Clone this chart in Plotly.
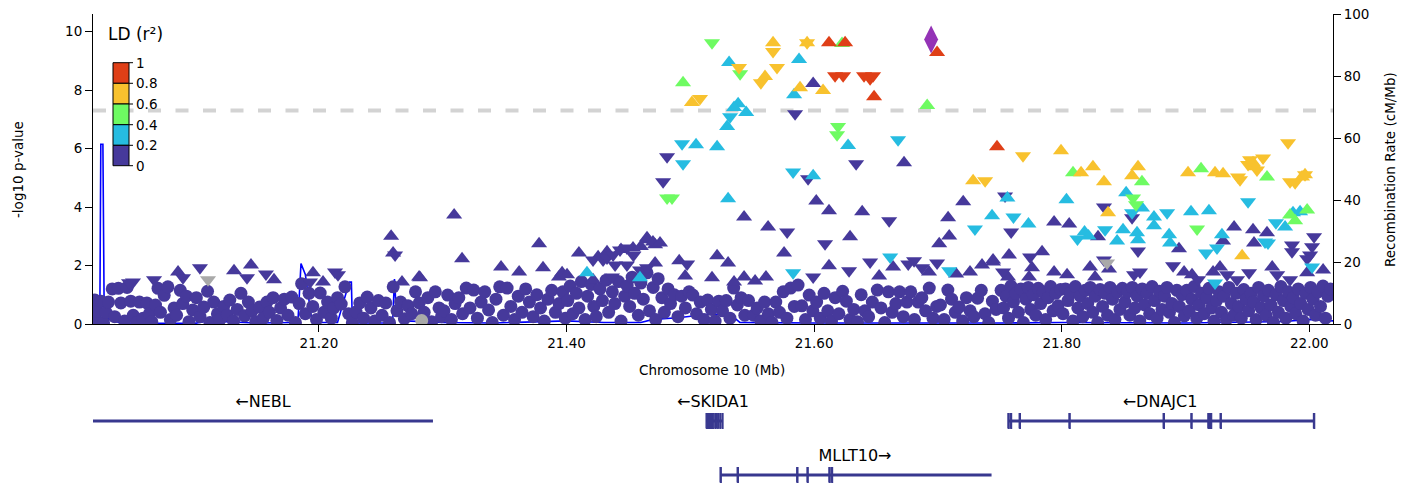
import plotly.graph_objects as go

# ---------------- association results (chr10, Mb / -log10 p) ----------------
# variants without an effect direction (drawn as circles), all r2 < 0.2
circle_pos = [
    21.019, 21.020, 21.021, 21.024, 21.026, 21.028, 21.030, 21.033, 21.035, 21.038, 21.040, 21.043, 21.045, 21.048, 21.050, 21.053, 21.055, 21.058,
    21.061, 21.063, 21.065, 21.068, 21.070, 21.072, 21.075, 21.078, 21.080, 21.083, 21.085, 21.088, 21.090, 21.093, 21.095, 21.098,
    21.101, 21.104, 21.107, 21.110, 21.112, 21.115, 21.118, 21.120, 21.123, 21.126, 21.128, 21.131, 21.134, 21.137, 21.140, 21.143, 21.146, 21.149,
    21.152, 21.155, 21.158, 21.160, 21.163, 21.166, 21.169, 21.172, 21.175, 21.178, 21.181, 21.184, 21.186, 21.189, 21.192, 21.195, 21.198,
    21.201, 21.204, 21.207, 21.210, 21.212, 21.215, 21.218, 21.221, 21.224, 21.227, 21.230, 21.233, 21.236, 21.239, 21.242, 21.245, 21.248,
    21.251, 21.254, 21.257, 21.260, 21.263, 21.266, 21.269, 21.272, 21.275, 21.278, 21.281, 21.285, 21.288, 21.291, 21.294, 21.297, 21.299,
    21.301, 21.304, 21.307, 21.310, 21.313, 21.316, 21.319, 21.322, 21.325, 21.328, 21.331, 21.334, 21.337, 21.340, 21.343, 21.346, 21.349,
    21.352, 21.355, 21.358, 21.361, 21.364, 21.367, 21.370, 21.373, 21.376, 21.379, 21.382, 21.385, 21.388, 21.391, 21.394, 21.397, 21.399,
    21.401, 21.403, 21.405, 21.408, 21.410, 21.412, 21.415, 21.417, 21.420, 21.422, 21.424, 21.427, 21.429, 21.432, 21.434, 21.437, 21.439, 21.442, 21.444, 21.447, 21.449,
    21.451, 21.453, 21.455, 21.458, 21.460, 21.462, 21.465, 21.467, 21.470, 21.472, 21.474, 21.477, 21.479, 21.482, 21.484, 21.487, 21.490, 21.493, 21.496, 21.499,
    21.502, 21.505, 21.508, 21.511, 21.514, 21.517, 21.520, 21.523, 21.526, 21.529, 21.532, 21.535, 21.538, 21.541, 21.544, 21.547,
    21.551, 21.554, 21.557, 21.560, 21.563, 21.566, 21.569, 21.572, 21.575, 21.578, 21.581, 21.584, 21.587, 21.590, 21.593, 21.596, 21.599,
    21.602, 21.605, 21.608, 21.611, 21.614, 21.617, 21.620, 21.623, 21.626, 21.629, 21.632, 21.635, 21.638, 21.641, 21.644, 21.647,
    21.651, 21.654, 21.657, 21.660, 21.663, 21.666, 21.669, 21.672, 21.675, 21.678, 21.681, 21.684, 21.687, 21.690, 21.693, 21.696, 21.699,
    21.702, 21.705, 21.708, 21.711, 21.714, 21.717, 21.720, 21.723, 21.726, 21.729, 21.732, 21.735, 21.738, 21.741, 21.744, 21.747,
    21.751, 21.753, 21.755, 21.757, 21.759, 21.761, 21.763, 21.765, 21.767, 21.769, 21.771, 21.773, 21.775, 21.777, 21.779, 21.781, 21.783, 21.785, 21.787, 21.789, 21.791, 21.793, 21.795, 21.797, 21.799,
    21.801, 21.803, 21.805, 21.807, 21.809, 21.811, 21.813, 21.815, 21.817, 21.819, 21.821, 21.823, 21.825, 21.827, 21.829, 21.831, 21.833, 21.835, 21.837, 21.839, 21.841, 21.843, 21.845, 21.847, 21.849,
    21.851, 21.853, 21.855, 21.857, 21.859, 21.861, 21.863, 21.865, 21.867, 21.869, 21.871, 21.873, 21.875, 21.877, 21.879, 21.881, 21.883, 21.885, 21.887, 21.889, 21.891, 21.893, 21.895, 21.897, 21.899,
    21.901, 21.903, 21.905, 21.907, 21.909, 21.911, 21.913, 21.915, 21.917, 21.919, 21.921, 21.923, 21.925, 21.927, 21.929, 21.931, 21.933, 21.935, 21.937, 21.939, 21.941, 21.943, 21.945, 21.947, 21.949,
    21.951, 21.953, 21.955, 21.957, 21.959, 21.961, 21.963, 21.965, 21.967, 21.969, 21.971, 21.973, 21.975, 21.977, 21.979, 21.981, 21.983, 21.985, 21.987, 21.989, 21.991, 21.993, 21.995, 21.997, 21.999,
    22.001, 22.003, 22.005, 22.007, 22.009, 22.011, 22.013, 22.015, 22.017,
]
circle_logp = [
    0.82, 0.15, 0.45, 0.78, 0.05, 0.40, 0.75, 1.20, 0.25, 1.22, 0.72, 0.10, 1.25, 0.78, 0.30, 0.05, 0.75, 0.20,
    0.72, 0.35, 0.08, 0.65, 1.22, 0.40, 0.98, 1.27, 0.15, 0.55, 0.30, 1.15, 0.70, 0.95, 0.08, 0.48,
    0.90, 0.25, 0.58, 1.12, 0.05, 0.75, 0.35, 0.15, 0.60, 0.30, 0.82, 0.10, 0.50, 1.05, 0.28, 0.75, 0.45, 0.08,
    0.58, 0.20, 0.75, 0.40, 0.90, 0.12, 0.55, 0.85, 0.30, 0.92, 0.05, 0.70, 1.38, 0.35, 1.05, 0.60, 0.15,
    1.06, 0.40, 0.75, 0.20, 0.55, 0.90, 0.68, 1.27, 0.35, 0.05, 0.41, 0.72, 0.20, 0.92, 0.55, 0.10, 0.80,
    0.30, 0.72, 0.05, 1.27, 0.45, 0.75, 0.18, 0.62, 0.35, 1.10, 0.72, 0.40, 0.90, 0.08, 1.10, 0.55, 0.25,
    0.45, 0.99, 0.15, 0.70, 0.90, 0.35, 1.23, 0.55, 1.16, 0.20, 0.75, 1.10, 0.48, 0.05, 0.85, 1.27, 0.30,
    1.23, 0.60, 0.15, 0.95, 0.40, 1.20, 0.75, 0.25, 1.00, 0.55, 0.10, 0.85, 1.15, 0.40, 0.70, 1.10, 0.20,
    0.80, 1.30, 0.35, 1.05, 0.55, 1.45, 0.15, 0.95, 1.35, 0.60, 0.25, 1.20, 0.80, 1.50, 0.40, 1.10, 0.70, 1.45, 0.10, 0.95, 1.30,
    0.60, 1.60, 1.05, 0.30, 1.40, 0.85, 1.75, 0.45, 1.25, 0.15, 1.55, 0.90, 0.40, 1.20, 0.70, 1.00, 0.25, 0.95, 0.55, 1.10,
    0.99, 0.35, 0.75, 0.15, 0.82, 0.50, 0.10, 0.78, 0.45, 0.80, 0.20, 1.23, 0.65, 0.90, 0.30, 0.80,
    0.30, 0.55, 0.10, 0.75, 0.35, 0.05, 0.75, 0.40, 1.10, 0.20, 1.23, 0.60, 1.33, 0.62, 0.15, 0.99, 0.45,
    0.75, 0.20, 1.05, 0.45, 0.10, 0.90, 0.35, 1.12, 0.78, 0.15, 0.50, 0.08, 1.00, 0.45, 0.25, 0.75,
    1.16, 0.55, 0.05, 1.10, 0.40, 0.70, 1.10, 0.25, 0.75, 1.10, 0.15, 0.75, 0.90, 0.45, 1.23, 0.20, 0.60,
    0.65, 0.15, 1.16, 0.85, 0.40, 0.58, 0.10, 0.90, 0.45, 0.25, 0.88, 1.15, 0.35, 0.05, 0.78, 0.50,
    1.15, 0.55, 0.95, 0.20, 1.30, 0.75, 1.05, 0.40, 1.20, 0.05, 0.85, 1.25, 0.50, 1.00, 0.30, 1.22, 0.70, 1.10, 0.15, 0.90, 1.28, 0.45, 1.05, 0.62, 1.18,
    0.35, 1.20, 0.80, 1.05, 0.10, 1.28, 0.55, 0.95, 0.25, 1.15, 0.70, 1.25, 0.40, 0.95, 0.05, 1.18, 0.60, 1.05, 0.30, 1.25, 0.85, 0.15, 1.10, 0.50, 1.22,
    0.75, 1.10, 0.30, 1.25, 0.55, 0.95, 0.10, 1.20, 0.65, 1.05, 0.35, 1.28, 0.80, 0.20, 1.12, 0.50, 0.95, 1.25, 0.40, 0.70, 0.05, 1.15, 0.60, 1.00, 0.28,
    1.15, 0.45, 0.85, 1.28, 0.20, 0.65, 1.05, 0.35, 0.90, 1.22, 0.55, 0.10, 0.80, 1.10, 0.40, 0.95, 0.15, 1.25, 0.70, 0.30, 1.05, 0.60, 0.20, 1.18, 0.85,
    0.45, 1.05, 0.75, 0.15, 1.25, 0.55, 0.95, 0.30, 1.15, 0.65, 0.05, 1.00, 0.40, 1.28, 0.80, 0.20, 1.10, 0.60, 0.90, 0.35, 1.20, 0.70, 0.10, 1.05, 0.50,
    1.25, 0.85, 0.30, 1.10, 0.60, 1.30, 0.20, 0.95, 1.20,
]
# circle with no LD information
nold_circle_pos = [21.283]
nold_circle_logp = [0.12]

# variants with a positive effect (triangle up); r2 = None means no LD information
up_pos = [
    21.612, 21.625, 21.6993, 21.6484, 21.7477,
    21.5668, 21.5943, 21.5603, 21.5886, 21.6072, 21.5013, 21.7284, 21.7994, 21.8156, 21.8252, 21.8341, 21.8568,
    21.8616, 21.902, 21.9238, 21.9303, 21.9545, 21.9561, 21.9965, 21.9941, 21.8374, 21.9457,
    21.4941, 21.6225, 21.6913, 21.8091, 21.8648, 21.9125, 21.9658, 21.9844, 21.9885, 21.9982,
    21.5313, 21.5878, 21.5838, 21.5386, 21.5451, 21.5297, 21.5353, 21.5046, 21.5216, 21.6274, 21.5305, 21.5992,
    21.7437, 21.7561, 21.7731, 21.8038, 21.8184, 21.8216, 21.8447, 21.8495, 21.852, 21.8648, 21.8608, 21.8616,
    21.8745, 21.8745, 21.8867, 21.8875, 21.9044, 21.9189, 21.9294, 21.9804, 21.9868, 21.9925, 21.4165, 21.4593,
    21.5992, 21.6726, 21.5434, 21.5628, 21.6017, 21.612, 21.6388, 21.7204, 21.7082, 21.7091, 21.701, 21.629,
    21.5757, 21.5216, 21.5305, 21.491, 21.4958, 21.5175, 21.612, 21.6525, 21.6638, 21.6928, 21.7147, 21.7259,
    21.7356, 21.7445, 21.5434, 21.5523, 21.5611, 21.5353, 21.7938, 21.806, 21.8293, 21.8947, 21.9303, 21.9392,
    21.9545, 21.9553, 21.9658, 21.8382,
    21.0862, 21.1314, 21.1451, 21.1637, 21.1952, 21.2033, 21.2599, 21.2583, 21.2671, 21.2809, 21.3092, 21.3156,
    21.3471, 21.3617, 21.3778, 21.381, 21.3939, 21.2817, 21.41, 21.4327, 21.4537, 21.4658, 21.4715, 21.3964,
    21.4004, 21.4214, 21.4715, 21.465, 21.4698, 21.4755, 21.4255, 21.444, 21.46,
    21.7445, 21.7574, 21.7566, 21.776, 21.7736, 21.7841, 21.7938, 21.8043, 21.8229, 21.8269, 21.8988, 21.9052,
    21.9222, 21.9278, 21.97, 21.9982, 22.0111,
]
up_logp = [
    9.62, 9.62, 9.28, 7.77, 6.06,
    9.62, 9.62, 8.46, 8.08, 7.98, 7.57, 4.90, 5.92, 5.17, 5.38, 4.86, 5.07,
    5.38, 5.17, 5.17, 5.14, 5.51, 5.38, 5.10, 5.03, 3.80, 2.33,
    8.25, 9.59, 7.47, 5.17, 4.86, 5.31, 5.03, 3.73, 3.53, 3.90,
    8.94, 9.04, 7.84, 7.53, 7.23, 6.75, 7.40, 6.13, 6.06, 6.10, 4.28, 5.07,
    3.70, 4.31, 3.42, 4.25, 3.15, 3.01, 2.84, 3.22, 4.49, 3.97, 3.12, 2.88,
    3.66, 3.36, 3.05, 2.77, 3.84, 3.87, 3.05, 3.32, 3.80, 3.84, 1.75, 1.58,
    8.22, 5.51, 3.66, 3.32, 4.21, 3.87, 3.84, 4.18, 3.63, 3.01, 2.74, 2.98,
    2.43, 2.33, 2.09, 2.16, 1.64, 1.58, 1.99, 1.64, 1.95, 1.78, 1.71, 1.78,
    2.02, 2.12, 1.61, 1.47, 1.61, 1.44, 3.49, 3.42, 2.98, 2.57, 2.84, 3.32,
    3.22, 2.77, 3.12, 1.88,
    1.78, 1.82, 2.02, 1.51, 1.75, 1.44, 2.43, 3.00, 1.44, 1.61, 3.73, 2.23,
    1.95, 1.78, 2.74, 1.92, 1.61, 1.58, 2.43, 2.47, 2.60, 2.88, 2.71, 1.75,
    1.68, 1.51, 2.09, 2.95, 2.80, 2.77, 2.30, 2.55, 2.65,
    2.19, 2.36, 1.61, 1.92, 1.61, 2.47, 1.78, 1.68, 1.95, 1.61, 1.78, 1.68,
    1.78, 1.95, 1.95, 1.75, 1.85,
]
up_r2 = [
    0.92, 0.88, 0.95, 0.85, 0.83,
    0.70, 0.70, 0.72, 0.68, 0.66, 0.64, 0.71, 0.69, 0.62, 0.65, 0.63, 0.67,
    0.66, 0.64, 0.70, 0.68, 0.73, 0.71, 0.66, 0.69, 0.61, 0.63,
    0.52, 0.58, 0.45, 0.50, 0.55, 0.48, 0.53, 0.47, 0.44, 0.51,
    0.35, 0.38, 0.32, 0.30, 0.28, 0.33, 0.29, 0.31, 0.36, 0.27, 0.24, 0.26,
    0.30, 0.34, 0.25, 0.33, 0.28, 0.22, 0.24, 0.31, 0.37, 0.29, 0.26, 0.23,
    0.32, 0.27, 0.25, 0.21, 0.35, 0.36, 0.27, 0.30, 0.33, 0.34, 0.22, 0.21,
    0.15, 0.12, 0.10, 0.08, 0.14, 0.11, 0.13, 0.16, 0.09, 0.07, 0.12, 0.10,
    0.06, 0.08, 0.05, 0.04, 0.03, 0.05, 0.06, 0.02, 0.04, 0.03, 0.05, 0.02,
    0.06, 0.07, 0.03, 0.02, 0.04, 0.01, 0.09, 0.08, 0.07, 0.05, 0.10, 0.11,
    0.09, 0.06, 0.08, 0.03,
    0.01, 0.02, 0.01, 0.03, 0.02, 0.01, 0.04, 0.05, 0.02, 0.03, 0.06, 0.04,
    0.03, 0.02, 0.05, 0.03, 0.02, 0.01, 0.06, 0.07, 0.08, 0.10, 0.09, 0.03,
    0.02, 0.04, 0.06, 0.11, 0.09, 0.10, 0.05, 0.08, 0.09,
    0.05, 0.06, 0.03, 0.04, 0.02, 0.05, 0.03, 0.04, 0.05, 0.02, 0.03, 0.04,
    0.05, 0.06, 0.04, 0.05, 0.03,
]

# variants with a negative effect (triangle down)
down_pos = [
    21.6169, 21.6234, 21.6403, 21.6452, 21.6476,
    21.5668, 21.5943, 21.57, 21.557, 21.5078, 21.5393, 21.7381, 21.7687, 21.9424, 21.944, 21.9505, 21.9577,
    21.9626, 21.9521, 21.9828, 21.9844, 21.9885, 21.9965,
    21.5175, 21.5402, 21.6193, 21.6185, 21.4812, 21.4852, 21.8576, 21.86, 21.9093,
    21.5321, 21.4933, 21.6678, 21.4941, 21.583, 21.7299, 21.583, 21.6614, 21.7091, 21.761, 21.8127, 21.835,
    21.8568, 21.8851, 21.9165, 21.9254, 21.9505, 21.9642, 21.9666, 21.973, 22.0022, 21.9238,
    21.5846, 21.4812, 21.478, 21.5951, 21.6339, 21.5782, 21.6606, 21.6088, 21.4974, 21.5992, 21.6282, 21.6452,
    21.676, 21.6807, 21.6871, 21.6993, 21.7542, 21.7591, 21.8341, 21.8568, 21.8616, 21.8899, 21.986, 21.986,
    22.0038, 22.0022, 22.0006, 21.9982, 21.8341,
    21.0498, 21.0466, 21.0668, 21.0902, 21.1039, 21.1419, 21.1572, 21.1928, 21.213, 21.2154, 21.2615, 21.4214,
    21.4295, 21.4327, 21.4376, 21.4432, 21.4488, 21.4488, 21.4392, 21.4593, 21.465, 21.4367, 21.454,
    21.7526, 21.7744, 21.8584, 21.8632, 21.9101, 21.9335, 21.9416, 21.9513, 21.974, 21.9844,
    21.1104, 21.8366,
]
down_logp = [
    8.49, 8.49, 8.49, 8.39, 8.49,
    9.32, 9.62, 8.77, 8.25, 7.71, 8.77, 4.90, 5.75, 5.03, 4.93, 5.45, 5.27,
    5.68, 5.62, 6.20, 4.86, 4.83, 5.10,
    9.62, 8.56, 6.75, 6.47, 4.31, 4.31, 4.31, 4.08, 3.25,
    7.09, 6.16, 6.30, 5.48, 5.20, 3.25, 1.75, 2.29, 1.82, 3.66, 2.91, 3.22,
    3.80, 3.80, 2.43, 2.60, 4.18, 2.80, 2.77, 3.46, 1.95, 1.40,
    7.19, 5.72, 4.86, 4.97, 5.48, 3.15, 3.53, 2.74, 2.05, 1.61, 1.82, 2.12,
    2.05, 2.16, 1.92, 2.09, 4.38, 3.15, 4.00, 3.63, 2.50, 1.99, 2.70, 2.47,
    2.98, 2.64, 2.36, 2.23, 2.19,
    1.44, 1.41, 1.51, 1.58, 1.92, 1.58, 1.71, 1.44, 1.78, 1.68, 2.36, 2.19,
    2.19, 2.26, 2.36, 2.53, 2.60, 2.02, 2.02, 1.85, 1.92, 1.61, 2.35,
    1.78, 2.29, 1.68, 1.78, 1.51, 1.68, 1.51, 1.75, 1.68, 1.51,
    1.51, 2.09,
]
down_r2 = [
    0.90, 0.90, 0.86, 0.86, 0.87,
    0.70, 0.70, 0.72, 0.66, 0.64, 0.68, 0.62, 0.69, 0.65, 0.63, 0.71, 0.67,
    0.73, 0.70, 0.74, 0.62, 0.61, 0.66,
    0.58, 0.52, 0.46, 0.44, 0.42, 0.43, 0.50, 0.47, 0.41,
    0.30, 0.27, 0.33, 0.25, 0.29, 0.24, 0.21, 0.23, 0.22, 0.31, 0.26, 0.28,
    0.35, 0.33, 0.25, 0.27, 0.38, 0.26, 0.24, 0.31, 0.22, 0.21,
    0.15, 0.12, 0.10, 0.13, 0.14, 0.09, 0.11, 0.08, 0.05, 0.04, 0.06, 0.07,
    0.05, 0.06, 0.04, 0.05, 0.12, 0.10, 0.11, 0.09, 0.06, 0.03, 0.07, 0.06,
    0.08, 0.07, 0.05, 0.04, 0.05,
    0.01, 0.01, 0.02, 0.02, 0.03, 0.02, 0.03, 0.01, 0.02, 0.02, 0.04, 0.05,
    0.06, 0.05, 0.07, 0.08, 0.08, 0.05, 0.04, 0.06, 0.07, 0.03, 0.08,
    0.04, 0.05, 0.03, 0.04, 0.02, 0.03, 0.02, 0.04, 0.03, 0.02,
    None, None,
]

# index variant
lead_pos = [21.6945]
lead_logp = [9.73]

# recombination rate (cM/Mb)
recomb_pos = [21.0175, 21.0230, 21.0238, 21.0255, 21.0265, 21.030, 21.040, 21.100, 21.110, 21.150, 21.180,
              21.1830, 21.1855, 21.189, 21.1945, 21.215, 21.2245, 21.2262, 21.2270, 21.2595, 21.2610, 21.2625,
              21.270, 21.300, 21.340, 21.400, 21.430, 21.460, 21.470, 21.490, 21.516, 21.5325, 21.540,
              21.600, 21.750, 21.800, 21.900, 21.980, 22.000, 22.0191]
recomb_rate = [0.5, 0.5, 58.0, 58.0, 5.0, 1.5, 0.3, 0.2, 1.0, 0.3, 0.5,
               0.5, 19.5, 16.0, 0.5, 0.5, 13.5, 13.5, 0.3, 0.3, 14.5, 4.0,
               1.0, 0.5, 0.3, 1.0, 0.5, 0.5, 1.5, 2.0, 3.2, 3.0, 0.5,
               0.3, 0.3, 0.5, 0.3, 0.8, 1.5, 1.0]

SIG_LINE = 7.3  # genome-wide significance, -log10(5e-8)

# ---------------- genes ----------------
gene_names = ["NEBL", "SKIDA1", "DNAJC1", "MLLT10"]
gene_strand = ["-", "-", "-", "+"]
gene_start = [20.90, 21.5127, 21.757, 21.5245]
gene_end = [21.2921, 21.5264, 22.0038, 21.7433]
gene_row = [0, 0, 0, 1]
gene_label_pos = [21.1548, 21.5183, 21.8794, 21.633]
gene_exons = [
    [],
    [(21.5127, 21.5190), (21.5198, 21.5204), (21.5212, 21.5218), (21.5226, 21.5232), (21.5240, 21.5246), (21.5256, 21.5264)],
    [(21.7565, 21.7575), (21.7585, 21.7595), (21.7656, 21.7666), (21.8058, 21.8068), (21.8819, 21.8829),
     (21.9043, 21.9053), (21.9180, 21.9211), (21.9279, 21.9289), (22.0033, 22.0043)],
    [(21.5240, 21.5250), (21.5378, 21.5388), (21.5859, 21.5869), (21.5942, 21.5952), (21.6119, 21.6129), (21.6139, 21.6149)],
]

# ---------------- styling ----------------
LD_COLORS = ["#46399b", "#26bce1", "#6efb62", "#f8c22e", "#df3f17"]
NO_LD = "#a9a9a9"
LEAD_COLOR = "#9433b6"
GENE_COLOR = "#38388f"
FONT = "DejaVu Sans"
X_RANGE = [21.0175, 22.0191]
Y_MAX = 10.6


def ld_bin(r2):
    if r2 is None:
        return -1
    return min(int(r2 / 0.2), 4)


fig = go.Figure()

# recombination rate drawn on the base (right-hand) axis so the points sit on top
fig.add_trace(go.Scatter(x=recomb_pos, y=recomb_rate, mode="lines", xaxis="x", yaxis="y",
                         line=dict(color="#0000ff", width=1.6), hoverinfo="skip"))

# association points
fig.add_trace(go.Scatter(x=circle_pos, y=circle_logp, mode="markers", xaxis="x", yaxis="y3",
                         marker=dict(symbol="circle", size=13, color=LD_COLORS[0], line=dict(width=0))))
fig.add_trace(go.Scatter(x=nold_circle_pos, y=nold_circle_logp, mode="markers", xaxis="x", yaxis="y3",
                         marker=dict(symbol="circle", size=13, color=NO_LD, line=dict(width=0))))

for b in [0, -1, 1, 2, 3, 4]:
    color = NO_LD if b < 0 else LD_COLORS[b]
    for pos, lp, r2s, sym in [(up_pos, up_logp, up_r2, "triangle-up"),
                              (down_pos, down_logp, down_r2, "triangle-down")]:
        xs = [p for p, r in zip(pos, r2s) if ld_bin(r) == b]
        ys = [v for v, r in zip(lp, r2s) if ld_bin(r) == b]
        if xs:
            fig.add_trace(go.Scatter(x=xs, y=ys, mode="markers", xaxis="x", yaxis="y3",
                                     marker=dict(symbol=sym, size=14, color=color, line=dict(width=0))))

fig.add_trace(go.Scatter(x=lead_pos, y=lead_logp, mode="markers", xaxis="x", yaxis="y3",
                         marker=dict(symbol="diamond-tall", size=20, color=LEAD_COLOR, line=dict(width=0))))

# gene track: rows at -56 and -110 on a pixel-like scale
ROW_Y = [-56, -110]
EXON_HALF = 7.5
for name, strand, s, e, row, lab, exons in zip(gene_names, gene_strand, gene_start, gene_end,
                                               gene_row, gene_label_pos, gene_exons):
    y0 = ROW_Y[row]
    fig.add_trace(go.Scatter(x=[s, e], y=[y0, y0], mode="lines", xaxis="x2", yaxis="y2",
                             line=dict(color=GENE_COLOR, width=3), hoverinfo="skip"))
    if exons:
        ex, ey = [], []
        for a, b2 in exons:
            ex += [a, b2, b2, a, a, None]
            ey += [y0 - EXON_HALF, y0 - EXON_HALF, y0 + EXON_HALF, y0 + EXON_HALF, y0 - EXON_HALF, None]
        fig.add_trace(go.Scatter(x=ex, y=ey, mode="lines", fill="toself", fillcolor=GENE_COLOR,
                                 xaxis="x2", yaxis="y2", line=dict(color=GENE_COLOR, width=1.2),
                                 hoverinfo="skip"))
    label = ("\u2190" + name) if strand == "-" else (name + "\u2192")
    fig.add_trace(go.Scatter(x=[lab], y=[y0 + 18], mode="text", text=[label], xaxis="x2", yaxis="y2",
                             textfont=dict(family=FONT, size=16, color="#000000"), hoverinfo="skip"))

# ---------------- layout ----------------
W, H = 1414, 485
ML, MR, MT, MB = 93, 81, 14, 0
PW, PH = W - ML - MR, H - MT - MB


def px_x(px):
    return (px - ML) / PW


def px_y(py):
    return (H - MB - py) / PH


MAIN_BOTTOM = px_y(324)

axis_common = dict(showgrid=False, zeroline=False, showline=True, linecolor="#000000", linewidth=1,
                   ticks="outside", ticklen=7, tickcolor="#000000", automargin=False,
                   tickfont=dict(family=FONT, size=13.5, color="#000000"))

fig.update_layout(
    width=W, height=H, autosize=False,
    margin=dict(l=ML, r=MR, t=MT, b=MB, pad=0, autoexpand=False),
    paper_bgcolor="white", plot_bgcolor="white",
    showlegend=False,
    xaxis=dict(range=X_RANGE, domain=[0, 1], anchor="y",
               tickvals=[21.2, 21.4, 21.6, 21.8, 22.0], tickformat=".2f", **axis_common),
    yaxis=dict(range=[0, 100], domain=[MAIN_BOTTOM, 1], anchor="x", side="right",
               tickvals=[0, 20, 40, 60, 80, 100], **axis_common),
    yaxis3=dict(range=[0, Y_MAX], overlaying="y", anchor="x", side="left",
                tickvals=[0, 2, 4, 6, 8, 10], **axis_common),
    xaxis2=dict(range=X_RANGE, domain=[0, 1], anchor="y2", visible=False, automargin=False),
    yaxis2=dict(range=[-120, 0], domain=[0, px_y(365)], anchor="x2", visible=False, automargin=False),
)

# significance threshold
fig.add_shape(type="line", xref="x", yref="y3", x0=X_RANGE[0], x1=X_RANGE[1], y0=SIG_LINE, y1=SIG_LINE,
              line=dict(color="#d3d3d3", width=4, dash="13px,14.5px"), layer="below")

# axis titles
title_font = dict(family=FONT, size=13.5, color="#000000")
fig.add_annotation(text="-log10 p-value", xref="paper", yref="paper", x=px_x(18), y=px_y(170),
                   xanchor="center", yanchor="middle", textangle=-90, showarrow=False, font=title_font)
fig.add_annotation(text="Recombination Rate (cM/Mb)", xref="paper", yref="paper", x=px_x(1390), y=px_y(170),
                   xanchor="center", yanchor="middle", textangle=-90, showarrow=False, font=title_font)
fig.add_annotation(text="Chromosome 10 (Mb)", xref="paper", yref="paper", x=px_x(712), y=px_y(370),
                   xanchor="center", yanchor="middle", showarrow=False, font=title_font)

# LD colour key
fig.add_annotation(text="LD (r\u00b2)", xref="paper", yref="paper", x=px_x(106), y=px_y(34),
                   xanchor="left", yanchor="middle", showarrow=False,
                   font=dict(family=FONT, size=17, color="#000000"))
key_edges = [62.7, 83.3, 104.0, 124.7, 145.3, 165.7]
key_labels = ["1", "0.8", "0.6", "0.4", "0.2", "0"]
for i in range(5):
    fig.add_shape(type="rect", xref="paper", yref="paper",
                  x0=px_x(113), x1=px_x(129), y0=px_y(key_edges[i + 1]), y1=px_y(key_edges[i]),
                  fillcolor=LD_COLORS[4 - i], line=dict(color="#000000", width=1))
for edge, lab in zip(key_edges, key_labels):
    fig.add_shape(type="line", xref="paper", yref="paper", x0=px_x(129), x1=px_x(133),
                  y0=px_y(edge), y1=px_y(edge), line=dict(color="#000000", width=1))
    fig.add_annotation(text=lab, xref="paper", yref="paper", x=px_x(134), y=px_y(edge),
                       xanchor="left", yanchor="middle", showarrow=False,
                       font=dict(family=FONT, size=13.5, color="#000000"))

fig.write_html("out.html", config={"displayModeBar": False})
